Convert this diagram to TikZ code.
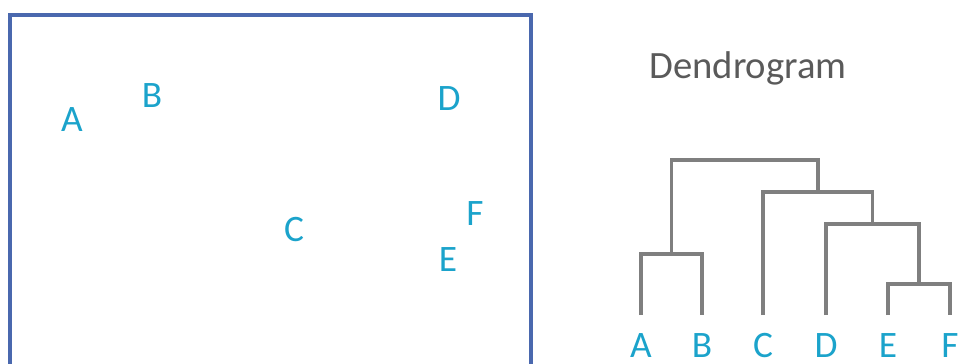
\documentclass[tikz,border=0pt]{standalone}
\usepackage{fontspec}
\setmainfont{Carlito}
\usetikzlibrary{positioning}

\definecolor{ptcyan}{HTML}{1BA3CB}
\definecolor{boxblue}{HTML}{4A68AE}
\definecolor{treegray}{HTML}{7F7F7F}
\definecolor{titlegray}{HTML}{5A5A5A}

\begin{document}
\begin{tikzpicture}[x=0.75pt, y=-0.75pt,
    point/.style={text=ptcyan, font=\fontsize{28}{30}\selectfont, inner sep=0pt},
    leaf/.style={point, anchor=base},
    link/.style={draw=treegray, line width=2.3pt},
    title/.style={text=titlegray, font=\fontsize{29}{31}\selectfont}
]
\useasboundingbox (0,0) rectangle (960,364);

% Scatter box
\begin{scope}
\clip (0,0) rectangle (960,364);
\draw[boxblue, line width=2.4pt] (10,15) rectangle (531,400);
\end{scope}

% Points
\node[point] (ptA) at (72,120) {A};
\node[point] (ptB) at (152,96) {B};
\node[point] (ptC) at (294,230) {C};
\node[point] (ptD) at (449,99) {D};
\node[point] (ptE) at (448,260) {E};
\node[point] (ptF) at (475,214) {F};

% Title
\node[title] (dendro) at (748,68) {Dendrogram};

% Leaves
\node[leaf] (leafA) at (641,357) {A};
\node[leaf] (leafB) at (702,357) {B};
\node[leaf] (leafC) at (763,357) {C};
\node[leaf] (leafD) at (826,357) {D};
\node[leaf] (leafE) at (888,357) {E};
\node[leaf] (leafF) at (950,357) {F};

% Leaf tops
\foreach \n in {A,B,C,D,E,F}
  \coordinate (top\n) at ([yshift=31.5pt]leaf\n.base);

% Joins
\coordinate (ab) at (671.5,254);
\coordinate (ef) at (919,284);
\coordinate (def) at (872.5,224);
\coordinate (cdef) at (818,192);
\coordinate (all) at (745,160);

% Tree
\draw[link] (topA) |- (ab) -| (topB);
\draw[link] (topE) |- (ef) -| (topF);
\draw[link] (topD) |- (def) -| (ef);
\draw[link] (topC) |- (cdef) -| (def);
\draw[link] (ab) |- (all) -| (cdef);

\end{tikzpicture}
\end{document}
